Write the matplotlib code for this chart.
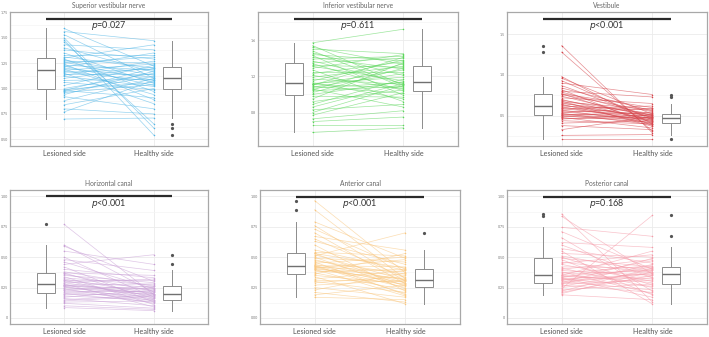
import matplotlib
matplotlib.use("Agg")
import matplotlib.pyplot as plt
import numpy as np

plt.rcParams['font.family'] = ['Lato', 'DejaVu Sans']

categories = ["Lesioned side", "Healthy side"]
titles = ["Superior vestibular nerve", "Inferior vestibular nerve", "Vestibule",
          "Horizontal canal", "Anterior canal", "Posterior canal"]
p_labels = ["=0.027", "=0.611", "<0.001", "<0.001", "<0.001", "=0.168"]
colors = ["#52B6E6", "#5CD65C", "#D6434A", "#C9A0D6", "#F9C67E", "#F59AA8"]

svn_lesioned = [1.59, 1.56, 1.53, 1.50, 1.48, 1.46, 1.43, 1.40, 1.38, 1.35, 1.33, 1.31,
                1.30, 1.29, 1.28, 1.27, 1.26, 1.25, 1.24, 1.23, 1.22, 1.21, 1.20, 1.19,
                1.18, 1.17, 1.16, 1.15, 1.14, 1.13, 1.12, 1.10, 1.08, 1.06, 1.03, 1.00,
                0.99, 0.98, 0.98, 0.97, 0.96, 0.94, 0.92, 0.88, 0.84, 0.80, 0.77, 0.70]
svn_healthy = [1.22, 1.47, 1.10, 0.61, 0.54, 0.65, 1.38, 1.16, 1.29, 1.05, 1.33, 1.20,
               1.43, 0.97, 1.13, 1.25, 1.08, 1.31, 0.89, 1.18, 1.03, 1.35, 1.11, 0.94,
               1.24, 1.07, 1.19, 0.85, 1.14, 1.27, 1.02, 1.21, 1.09, 0.99, 1.23, 1.15,
               1.06, 1.20, 0.91, 1.12, 1.04, 1.17, 0.80, 1.10, 1.00, 0.75, 1.08, 0.71]

ivn_lesioned = [1.57, 1.54, 1.52, 1.50, 1.48, 1.46, 1.44, 1.43, 1.41, 1.39, 1.37, 1.35,
                1.34, 1.32, 1.31, 1.29, 1.27, 1.25, 1.23, 1.21, 1.19, 1.17, 1.15, 1.13,
                1.12, 1.11, 1.11, 1.10, 1.09, 1.08, 1.07, 1.06, 1.05, 1.04, 1.02, 1.00,
                0.98, 0.95, 0.92, 0.89, 0.86, 0.83, 0.80, 0.77, 0.73, 0.70, 0.66, 0.58]
ivn_healthy = [1.72, 1.10, 1.33, 1.45, 1.08, 1.21, 1.37, 0.99, 1.28, 1.42, 1.12, 1.40,
               1.04, 1.30, 1.15, 1.44, 0.92, 1.25, 1.36, 1.06, 1.31, 1.11, 1.38, 0.95,
               1.19, 1.27, 1.07, 1.41, 1.01, 1.23, 1.13, 0.86, 1.34, 1.09, 1.29, 1.14,
               0.97, 1.35, 1.05, 1.17, 1.12, 0.89, 1.10, 1.02, 0.82, 0.75, 0.66, 0.63]

vest_lesioned = [1.36, 1.28, 0.98, 0.96, 0.93, 0.90, 0.87, 0.84, 0.82, 0.80, 0.79, 0.77,
                 0.77, 0.76, 0.74, 0.72, 0.70, 0.69, 0.68, 0.67, 0.66, 0.65, 0.64, 0.63,
                 0.62, 0.61, 0.60, 0.59, 0.58, 0.57, 0.56, 0.55, 0.54, 0.53, 0.52, 0.51,
                 0.51, 0.50, 0.49, 0.48, 0.47, 0.46, 0.44, 0.41, 0.38, 0.33, 0.26, 0.22]
vest_healthy = [0.29, 0.31, 0.40, 0.52, 0.45, 0.76, 0.47, 0.56, 0.38, 0.73, 0.50, 0.60,
                0.42, 0.55, 0.48, 0.65, 0.44, 0.51, 0.37, 0.58, 0.46, 0.53, 0.40, 0.49,
                0.57, 0.43, 0.51, 0.47, 0.62, 0.41, 0.52, 0.45, 0.59, 0.39, 0.50, 0.47,
                0.54, 0.42, 0.48, 0.35, 0.46, 0.51, 0.40, 0.44, 0.33, 0.49, 0.27, 0.22]

hc_lesioned = [0.77, 0.60, 0.59, 0.55, 0.50, 0.48, 0.46, 0.44, 0.42, 0.40, 0.38, 0.37,
               0.37, 0.36, 0.35, 0.34, 0.33, 0.32, 0.31, 0.31, 0.30, 0.29, 0.29, 0.28,
               0.27, 0.27, 0.27, 0.26, 0.26, 0.25, 0.25, 0.24, 0.23, 0.23, 0.22, 0.21,
               0.20, 0.20, 0.19, 0.18, 0.17, 0.16, 0.15, 0.14, 0.13, 0.12, 0.10, 0.085]
hc_healthy = [0.19, 0.21, 0.30, 0.44, 0.17, 0.39, 0.24, 0.52, 0.13, 0.33, 0.26, 0.16,
              0.35, 0.22, 0.29, 0.11, 0.27, 0.20, 0.31, 0.15, 0.25, 0.18, 0.32, 0.09,
              0.23, 0.20, 0.28, 0.14, 0.24, 0.19, 0.21, 0.12, 0.26, 0.17, 0.22, 0.16,
              0.25, 0.13, 0.20, 0.15, 0.23, 0.10, 0.19, 0.18, 0.14, 0.08, 0.07, 0.06]

ac_lesioned = [0.965, 0.89, 0.79, 0.76, 0.73, 0.70, 0.67, 0.65, 0.63, 0.60, 0.56, 0.54,
               0.53, 0.53, 0.52, 0.51, 0.50, 0.49, 0.48, 0.47, 0.46, 0.45, 0.44, 0.43,
               0.43, 0.43, 0.42, 0.42, 0.41, 0.41, 0.40, 0.40, 0.39, 0.38, 0.37, 0.36,
               0.35, 0.34, 0.32, 0.31, 0.30, 0.29, 0.27, 0.25, 0.23, 0.21, 0.19, 0.17]
ac_healthy = [0.37, 0.32, 0.49, 0.30, 0.40, 0.28, 0.557, 0.33, 0.44, 0.22, 0.39, 0.51,
              0.26, 0.41, 0.31, 0.70, 0.24, 0.46, 0.29, 0.36, 0.19, 0.50, 0.31, 0.27,
              0.42, 0.20, 0.38, 0.25, 0.48, 0.29, 0.35, 0.18, 0.32, 0.40, 0.23, 0.53,
              0.28, 0.115, 0.39, 0.30, 0.21, 0.34, 0.31, 0.17, 0.37, 0.13, 0.27, 0.15]

pc_lesioned = [0.855, 0.836, 0.745, 0.71, 0.66, 0.62, 0.60, 0.57, 0.55, 0.53, 0.51, 0.50,
               0.49, 0.48, 0.46, 0.45, 0.44, 0.42, 0.41, 0.40, 0.39, 0.38, 0.37, 0.36,
               0.35, 0.35, 0.34, 0.34, 0.33, 0.33, 0.32, 0.32, 0.31, 0.31, 0.30, 0.29,
               0.29, 0.28, 0.28, 0.27, 0.26, 0.25, 0.24, 0.23, 0.22, 0.21, 0.20, 0.19]
pc_healthy = [0.13, 0.36, 0.671, 0.40, 0.22, 0.58, 0.33, 0.45, 0.115, 0.50, 0.38, 0.27,
              0.42, 0.19, 0.37, 0.52, 0.30, 0.41, 0.25, 0.48, 0.35, 0.20, 0.43, 0.39,
              0.29, 0.55, 0.32, 0.40, 0.17, 0.47, 0.36, 0.26, 0.42, 0.34, 0.23, 0.49,
              0.37, 0.31, 0.44, 0.21, 0.39, 0.33, 0.844, 0.28, 0.41, 0.35, 0.38, 0.15]

lesioned = [svn_lesioned, ivn_lesioned, vest_lesioned, hc_lesioned, ac_lesioned, pc_lesioned]
healthy = [svn_healthy, ivn_healthy, vest_healthy, hc_healthy, ac_healthy, pc_healthy]

yticks = [[0.50, 0.75, 1.00, 1.25, 1.50, 1.75], [0.8, 1.2, 1.6], [0.5, 1.0, 1.5],
          [0, 0.25, 0.50, 0.75, 1.00], [0.00, 0.25, 0.50, 0.75, 1.00], [0, 0.25, 0.50, 0.75, 1.00]]
yticklabels = [["0.50", "0.75", "1.00", "1.25", "1.50", "1.75"], ["0.8", "1.2", "1.6"],
               ["0.5", "1.0", "1.5"], ["0", "0.25", "0.50", "0.75", "1.00"],
               ["0.00", "0.25", "0.50", "0.75", "1.00"], ["0", "0.25", "0.50", "0.75", "1.00"]]
yminor = [[0.625, 0.875, 1.125, 1.375, 1.625], [0.6, 1.0, 1.4, 1.8], [0.25, 0.75, 1.25],
          [0.125, 0.375, 0.625, 0.875], [0.125, 0.375, 0.625, 0.875], [0.125, 0.375, 0.625, 0.875]]
ylims = [(0.435, 1.752), (0.43, 1.91), (0.13, 1.77), (-0.05, 1.052), (-0.05, 1.052), (-0.05, 1.052)]
bar_y = [1.68, 1.83, 1.68, 1.0, 0.996, 0.997]
p_y = [1.617, 1.762, 1.60, 0.942, 0.937, 0.942]

fig = plt.figure(figsize=(7.09, 3.37), dpi=100)
W, H = 709, 337
boxes_px = [(10, 12, 198, 134), (258, 12, 200, 134), (507, 12, 200, 134),
            (10, 190, 198, 134), (260, 190, 200, 134), (507, 190, 200, 134)]

for i in range(6):
    x0, y0, w, h = boxes_px[i]
    ax = fig.add_axes([x0 / W, 1 - (y0 + h) / H, w / W, h / H])
    L = np.array(lesioned[i])
    Hh = np.array(healthy[i])
    ax.set_xlim(0.4, 2.6)
    ax.set_ylim(*ylims[i])
    ax.set_yticks(yticks[i])
    ax.set_yticklabels(yticklabels[i])
    ax.set_yticks(yminor[i], minor=True)
    ax.set_xticks([1, 2])
    ax.set_xticklabels(categories)
    ax.grid(True, which='major', color='#EBEBEB', linewidth=0.6)
    ax.grid(True, which='minor', axis='y', color='#F4F4F4', linewidth=0.5)
    ax.set_axisbelow(True)
    ax.tick_params(axis='y', which='both', length=0, labelsize=2.6, labelcolor='#777777', pad=1.5)
    ax.tick_params(axis='x', length=0, labelsize=5.2, labelcolor='#555555', pad=3)
    for s in ax.spines.values():
        s.set_color('#A8A8A8')
        s.set_linewidth(0.9)
    for a, b in zip(L, Hh):
        ax.plot([1, 2], [a, b], color=colors[i], lw=0.5, alpha=0.6, zorder=2)
    ax.scatter(np.ones_like(L), L, s=1.2, color=colors[i], zorder=3, linewidths=0)
    ax.scatter(np.full_like(Hh, 2.0), Hh, s=1.2, color=colors[i], zorder=3, linewidths=0)
    ax.boxplot([L, Hh], positions=[0.8, 2.2], widths=0.2, patch_artist=True,
               manage_ticks=False, showcaps=False,
               boxprops=dict(facecolor='white', edgecolor='#8C8C8C', linewidth=0.7),
               medianprops=dict(color='#707070', linewidth=1.0),
               whiskerprops=dict(color='#8C8C8C', linewidth=0.7),
               flierprops=dict(marker='o', markersize=1.3, markerfacecolor='#555555',
                               markeredgecolor='#555555'))
    ax.plot([0.8, 2.2], [bar_y[i], bar_y[i]], color='#2A2A2A', lw=1.6, solid_capstyle='butt', zorder=4)
    ax.text(1.5, p_y[i], r'$\it{p}$' + p_labels[i], ha='center', va='center',
            fontsize=6.5, color='#333333')
    ax.set_title(titles[i], fontsize=4.8, color='#666666', pad=3)

fig.savefig("out.png", dpi=100)
